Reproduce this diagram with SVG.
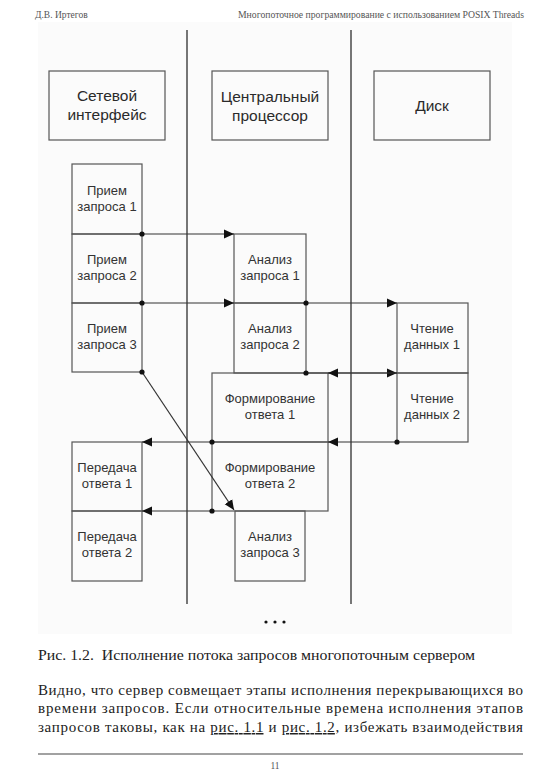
<svg xmlns="http://www.w3.org/2000/svg" width="550" height="778" viewBox="0 0 550 778">
<style>
.bg{fill:#ffffff}
.lane{stroke:#555;stroke-width:1.6;fill:none}
.box{fill:none;stroke:#555;stroke-width:1.2}
.hdr{font-family:"Liberation Sans",Arial,sans-serif;font-size:15.5px;fill:#2a2a2a;text-anchor:middle}
.lbl{font-family:"Liberation Sans",Arial,sans-serif;font-size:13px;fill:#333;text-anchor:middle}
.con{stroke:#333;stroke-width:1.2;fill:none}
.dot{fill:#111}
.page{font-family:"Liberation Serif","Times New Roman",serif;fill:#555;font-size:9.5px}
.cap{font-family:"Liberation Serif","Times New Roman",serif;fill:#222;font-size:14px}
.para{font-family:"Liberation Serif","Times New Roman",serif;fill:#222;font-size:15px}
</style>
<defs>
<marker id="arr" markerUnits="userSpaceOnUse" markerWidth="12" markerHeight="10" refX="10" refY="5" orient="auto">
<path d="M0,0.5 L10,5 L0,9.5 Z" fill="#111"/>
</marker>
</defs>
<rect class="bg" x="0" y="0" width="550" height="778"/>
<rect x="38" y="22" width="474" height="612" fill="#fbfbfb"/>

<g id="page-header">
<text class="page" x="35" y="18">Д.В. Иртегов</text>
<text class="page" x="524" y="18" text-anchor="end" textLength="286" lengthAdjust="spacingAndGlyphs">Многопоточное программирование с использованием POSIX Threads</text>
</g>

<g id="lanes">
<line class="lane" x1="187" y1="30" x2="187" y2="604"/>
<line class="lane" x1="351" y1="30" x2="351" y2="604"/>
</g>

<g id="hdr-net"><rect class="box" x="49" y="71" width="116" height="69"/><text class="hdr" x="107" y="101">Сетевой</text><text class="hdr" x="107" y="120">интерфейс</text></g>
<g id="hdr-cpu"><rect class="box" x="212" y="71" width="116" height="69"/><text class="hdr" x="270" y="102">Центральный</text><text class="hdr" x="270" y="121">процессор</text></g>
<g id="hdr-disk"><rect class="box" x="374" y="71" width="116" height="69"/><text class="hdr" x="432" y="111">Диск</text></g>

<g id="recv1"><rect class="box" x="72" y="164" width="70" height="70"/><text class="lbl" x="107" y="195">Прием</text><text class="lbl" x="107" y="211">запроса 1</text></g>
<g id="recv2"><rect class="box" x="72" y="234" width="70" height="69"/><text class="lbl" x="107" y="264">Прием</text><text class="lbl" x="107" y="280">запроса 2</text></g>
<g id="recv3"><rect class="box" x="72" y="303" width="70" height="69"/><text class="lbl" x="107" y="333">Прием</text><text class="lbl" x="107" y="349">запроса 3</text></g>

<g id="anal1"><rect class="box" x="234" y="234" width="72" height="69"/><text class="lbl" x="270" y="264">Анализ</text><text class="lbl" x="270" y="280">запроса 1</text></g>
<g id="anal2"><rect class="box" x="234" y="303" width="72" height="70"/><text class="lbl" x="270" y="333">Анализ</text><text class="lbl" x="270" y="349">запроса 2</text></g>
<g id="form1"><rect class="box" x="212" y="373" width="116" height="69"/><text class="lbl" x="270" y="403">Формирование</text><text class="lbl" x="270" y="419">ответа 1</text></g>
<g id="form2"><rect class="box" x="212" y="442" width="116" height="69"/><text class="lbl" x="270" y="472">Формирование</text><text class="lbl" x="270" y="488">ответа 2</text></g>
<g id="anal3"><rect class="box" x="235" y="511" width="70" height="70"/><text class="lbl" x="270" y="541">Анализ</text><text class="lbl" x="270" y="557">запроса 3</text></g>

<g id="read1"><rect class="box" x="397" y="303" width="71" height="70"/><text class="lbl" x="432" y="333">Чтение</text><text class="lbl" x="432" y="349">данных 1</text></g>
<g id="read2"><rect class="box" x="397" y="373" width="71" height="69"/><text class="lbl" x="432" y="403">Чтение</text><text class="lbl" x="432" y="419">данных 2</text></g>

<g id="send1"><rect class="box" x="72" y="442" width="70" height="69"/><text class="lbl" x="107" y="472">Передача</text><text class="lbl" x="107" y="488">ответа 1</text></g>
<g id="send2"><rect class="box" x="72" y="511" width="70" height="70"/><text class="lbl" x="107" y="541">Передача</text><text class="lbl" x="107" y="557">ответа 2</text></g>

<g id="connectors">
<path class="con" d="M142,234 H234" marker-end="url(#arr)"/>
<path class="con" d="M142,303 H234" marker-end="url(#arr)"/>
<path class="con" d="M306,303 H397" marker-end="url(#arr)"/>
<path class="con" d="M142,372 L234,510" marker-end="url(#arr)"/>
<path class="con" d="M306,373 H397" marker-end="url(#arr)"/>
<path class="con" d="M397,373 H328" marker-end="url(#arr)"/>
<path class="con" d="M397,442 H328" marker-end="url(#arr)"/>
<path class="con" d="M212,442 H142" marker-end="url(#arr)"/>
<path class="con" d="M212,511 H142" marker-end="url(#arr)"/>
<circle class="dot" cx="142" cy="234" r="2.6"/>
<circle class="dot" cx="142" cy="303" r="2.6"/>
<circle class="dot" cx="142" cy="372" r="2.6"/>
<circle class="dot" cx="306" cy="303" r="2.6"/>
<circle class="dot" cx="306" cy="373" r="2.6"/>
<circle class="dot" cx="397" cy="442" r="2.6"/>
<circle class="dot" cx="212" cy="442" r="2.6"/>
<circle class="dot" cx="212" cy="511" r="2.6"/>
</g>

<g id="ellipsis">
<circle class="dot" cx="266" cy="622" r="1.6"/>
<circle class="dot" cx="275" cy="622" r="1.6"/>
<circle class="dot" cx="284" cy="622" r="1.6"/>
</g>

<g id="caption">
<text class="cap" x="38" y="660" textLength="437" lengthAdjust="spacingAndGlyphs" xml:space="preserve">Рис. 1.2.  Исполнение потока запросов многопоточным сервером</text>
</g>

<g id="paragraph">
<text class="para" x="38" y="695" textLength="485" lengthAdjust="spacing">Видно, что сервер совмещает этапы исполнения перекрывающихся во</text>
<text class="para" x="38" y="713" textLength="485" lengthAdjust="spacing">времени запросов. Если относительные времена исполнения этапов</text>
<text class="para" x="38" y="732" textLength="485" lengthAdjust="spacing">запросов таковы, как на <tspan text-decoration="underline">рис. 1.1</tspan> и <tspan text-decoration="underline">рис. 1.2</tspan>, избежать взаимодействия</text>
</g>

<g id="footer">
<line x1="38" y1="754" x2="523" y2="754" stroke="#444" stroke-width="1.2"/>
<text class="page" x="275" y="769" text-anchor="middle" font-size="8.5px">11</text>
</g>
</svg>
